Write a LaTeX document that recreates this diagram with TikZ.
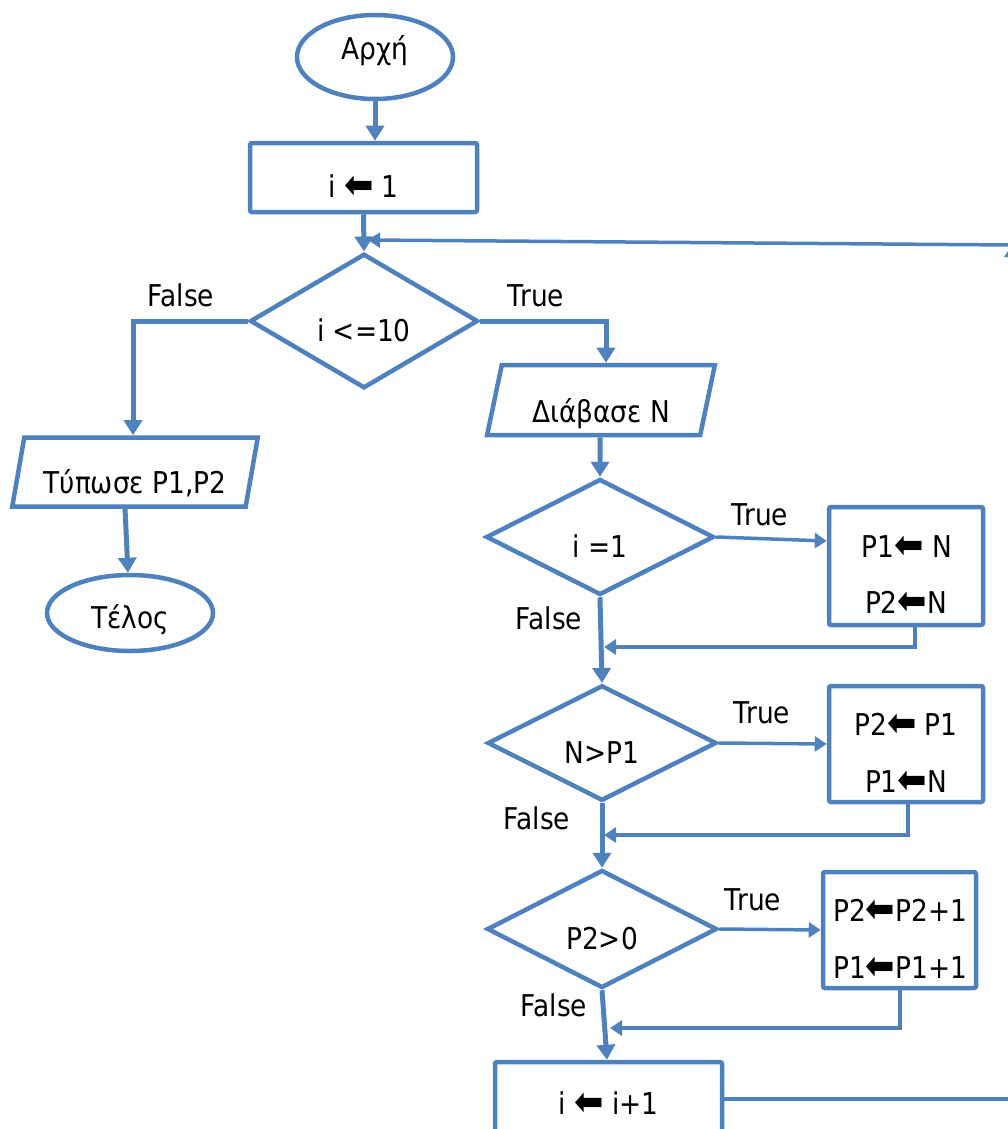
\documentclass[tikz,border=0pt]{standalone}
\usepackage{fontspec}
\setmainfont{DejaVu Sans}[FakeStretch=0.88]
\usetikzlibrary{shapes.geometric,arrows.meta}
\definecolor{fc}{RGB}{79,129,189}
\newcommand{\lar}{\raisebox{-1pt}{\fontsize{40}{40}\selectfont ⬅}}
\begin{document}
\begin{tikzpicture}[x=1pt,y=-1pt,
  every node/.style={font=\fontsize{30}{36}\selectfont, text=black},
  shp/.style={draw=fc, line width=4.5pt, inner sep=0pt},
  oval/.style={shp, ellipse},
  procbox/.style={shp, rectangle, rounded corners=2pt},
  dec/.style={shp, diamond},
  io/.style={shp, trapezium, trapezium left angle=77, trapezium right angle=103, trapezium stretches=true},
  flow/.style={draw=fc, line width=5pt, -{Triangle[length=15pt,width=18pt]}},
  thinarr/.style={draw=fc, line width=3.5pt, -{Triangle[length=12pt,width=15pt]}},
  txt/.style={text height=22pt, text depth=0pt, inner sep=0pt}]
\useasboundingbox (0,0) rectangle (1008,1129);
\clip (0,0) rectangle (1008,1129);

% shapes
\node[oval, minimum width=156, minimum height=84, text height=24pt, text depth=18pt] (start) at (375,57) {Αρχή};
\node[procbox, minimum width=227, minimum height=69, text height=40pt, text depth=1pt] (init) at (363.5,177.5) {i \lar\ 1};
\node[dec, minimum width=228, minimum height=118, text height=41pt, text depth=0pt] (d1) at (364,321) {i <=10};
\node[io, minimum width=228, minimum height=70, text height=44pt, text depth=-2pt] (read) at (601,400) {Διάβασε N};
\node[io, minimum width=246, minimum height=69, text height=43pt, text depth=-1pt] (print) at (135,472) {Τύπωσε P1,P2};
\node[oval, minimum width=166, minimum height=76, text height=36pt, text depth=6pt] (end) at (130,613) {Τέλος};
\node[dec, minimum width=228, minimum height=116, text height=41pt, text depth=0pt] (d2) at (600,537) {i =1};
\node[procbox, minimum width=154, minimum height=118] (b1) at (906,566) {};
\node[dec, minimum width=229, minimum height=114, text height=41pt, text depth=0pt] (d3) at (602,743) {N>P1};
\node[procbox, minimum width=154, minimum height=116] (b2) at (906,744) {};
\node[dec, minimum width=230, minimum height=118, text height=41pt, text depth=0pt] (d4) at (602,929) {P2>0};
\node[procbox, minimum width=153, minimum height=116] (b3) at (899.5,930) {};
\node[procbox, minimum width=227, minimum height=74, text height=36pt, text depth=6pt] (inc) at (608.5,1099) {i \lar\ i+1};

% box texts
\node[txt] (b1a) at (907,546) {P1\lar\ N};
\node[txt] (b1b) at (906,602.5) {P2\lar N};
\node[txt] (b2a) at (906,724) {P2\lar\ P1};
\node[txt] (b2b) at (906,781) {P1\lar N};
\node[txt] (b3a) at (900,910) {P2\lar P2+1};
\node[txt] (b3b) at (900,967.5) {P1\lar P1+1};

% branch labels
\node[txt] (f1) at (181,295) {False};
\node[txt] (t1) at (536,295) {True};
\node[txt] (t2) at (760,514) {True};
\node[txt] (f2) at (549,618) {False};
\node[txt] (t3) at (762,712) {True};
\node[txt] (f3) at (537,818) {False};
\node[txt] (t4) at (753,899) {True};
\node[txt] (f4) at (554,1005) {False};

% helper coordinates
\coordinate (j1) at (604,647);
\coordinate (j2) at (604,835);
\coordinate (j3) at (610,1028);
\coordinate (loopB) at (1012,1099);
\coordinate (loopT) at (1012,245);
\coordinate (ret) at (368,240);

% connectors
\draw[flow] (start.south) -- (start.south |- init.north);
\draw[flow] (init.south) -- (d1.north);
\draw[flow] (d1.west) -| ([xshift=-2pt]print.north);
\draw[flow] (d1.east) -| ([xshift=5pt]read.north);
\draw[flow] ([xshift=-10pt]print.south) -- ([xshift=-2pt]end.north);
\draw[flow] ([xshift=-1pt]read.south) -- (d2.north);
\draw[flow] (d2.south) -- (d3.north);
\draw[flow] (d3.south) -- (d4.north);
\draw[flow] (d4.south) -- ([xshift=-1.5pt]inc.north);

\draw[thinarr] (d2.east) -- ([yshift=25pt]b1.west);
\draw[thinarr] (d3.east) -- (b2.west);
\draw[thinarr] (d4.east) -- (b3.west);

\draw[thinarr] ([xshift=9pt]b1.south) |- (j1);
\draw[thinarr] ([xshift=2pt]b2.south) |- (j2);
\draw[thinarr] ([xshift=0.5pt]b3.south) |- (j3);

\draw[thinarr] (inc.east) -- (loopB) -- (loopT);
\draw[thinarr] (loopT) -- (ret);
\end{tikzpicture}
\end{document}
